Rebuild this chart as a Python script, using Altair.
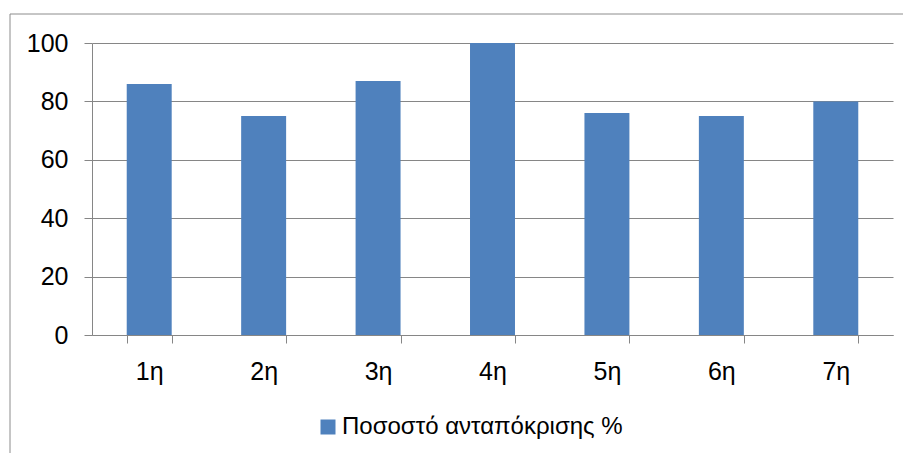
import altair as alt
import pandas as pd

categories = ["1η", "2η", "3η", "4η", "5η", "6η", "7η"]
values = [86, 75, 87, 100, 76, 75, 80]
series_name = "Ποσοστό ανταπόκρισης %"
y_ticks = [0, 20, 40, 60, 80, 100]

df = pd.DataFrame({"cat": categories, "val": values, "series": [series_name] * len(categories)})

FONT = "Liberation Sans"
GRID = "#868686"
FS = 25

bars = alt.Chart(df).mark_bar(color="#4F81BD").encode(
    x=alt.X(
        "cat:N",
        sort=categories,
        scale=alt.Scale(paddingInner=0.607, paddingOuter=0.3035),
        axis=alt.Axis(
            title=None, labelAngle=0, tickBand="extent", grid=False,
            domainColor=GRID, tickColor=GRID, tickSize=8,
            labelFontSize=FS, labelFont=FONT, labelColor="black", labelPadding=16,
        ),
    ),
    y=alt.Y(
        "val:Q",
        scale=alt.Scale(domain=[0, 100], nice=False),
        axis=alt.Axis(
            title=None, values=y_ticks, grid=True, gridColor=GRID,
            domainColor=GRID, tickColor=GRID, tickSize=8,
            labelFontSize=FS, labelFont=FONT, labelColor="black", labelPadding=16,
        ),
    ),
    color=alt.Color(
        "series:N",
        scale=alt.Scale(range=["#4F81BD"]),
        legend=alt.Legend(
            title=None, orient="none", legendX=224, legendY=372,
            symbolType="square", symbolSize=225, symbolStrokeWidth=0,
            labelFontSize=24, labelFont=FONT, labelColor="black", labelOffset=2,
            labelLimit=0,
        ),
    ),
)

frame = alt.Chart(pd.DataFrame({"a": [0]})).mark_rect(
    fill=None, stroke="#8c8c8c", strokeWidth=1
).encode(
    x=alt.value(-82), x2=alt.value(900), y=alt.value(-29), y2=alt.value(500)
)

chart = alt.layer(bars, frame).properties(
    width=801, height=292,
    autosize=alt.AutoSizeParams(type="none"),
    padding={"left": 84, "top": 35, "right": 10, "bottom": 118},
).configure_view(stroke=None)

chart.save("out.html", embed_options={"renderer": "svg", "actions": False})
